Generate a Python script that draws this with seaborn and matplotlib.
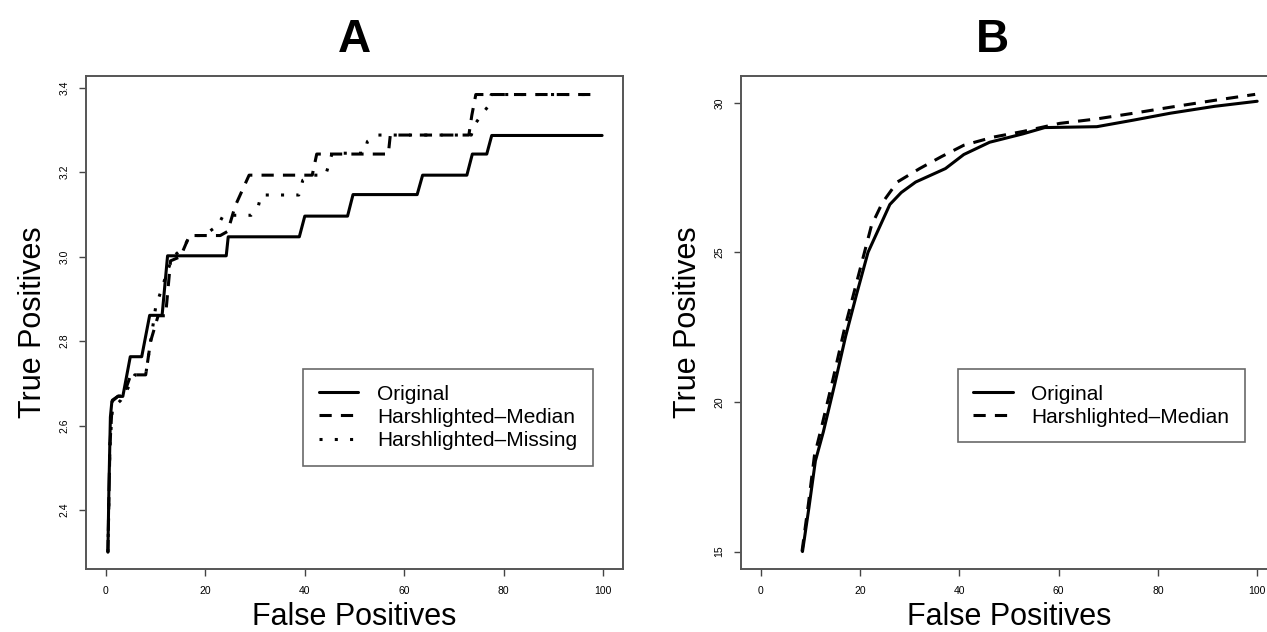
import matplotlib
matplotlib.use("Agg")
import matplotlib.pyplot as plt
import seaborn as sns

OUT_PATH = "out.png"

# Panel A: ROC-style step curves (false positives vs true positives)
a_orig_x = [0.4, 0.6, 0.9, 1.2, 2.4, 3.4, 4.9, 7.2, 8.8, 11.3, 12.4, 24.2, 24.6,
            38.9, 40.0, 48.6, 49.7, 62.6, 63.7, 72.6, 73.7, 76.6, 77.6, 99.8]
a_orig_y = [2.30, 2.45, 2.62, 2.657, 2.669, 2.669, 2.763, 2.763, 2.861, 2.861, 3.002, 3.002, 3.047,
            3.047, 3.096, 3.096, 3.147, 3.147, 3.193, 3.193, 3.243, 3.243, 3.287, 3.287]

a_median_x = [0.4, 0.8, 1.3, 2.5, 3.5, 5.0, 6.0, 8.0, 9.0, 10.5, 12.0, 13.0, 15.0, 16.8,
              23.0, 24.5, 26.0, 28.8, 41.5, 42.4, 56.8, 57.2, 73.0, 73.6, 74.4, 98.4]
a_median_y = [2.30, 2.55, 2.66, 2.67, 2.67, 2.72, 2.72, 2.72, 2.80, 2.86, 2.86, 2.99, 3.00, 3.05,
              3.05, 3.06, 3.12, 3.193, 3.193, 3.243, 3.243, 3.288, 3.288, 3.335, 3.384, 3.384]

a_missing_x = [0.4, 0.8, 1.3, 3.0, 5.0, 5.8, 8.0, 9.0, 10.0, 12.5, 13.5, 15.5, 17.0, 19.7,
               22.6, 23.6, 29.2, 30.6, 31.2, 38.8, 39.6, 41.6, 44.2, 45.5, 52.0, 52.6, 54.5,
               73.5, 74.0, 75.5, 76.8, 77.5, 98.4]
a_missing_y = [2.30, 2.55, 2.64, 2.66, 2.70, 2.72, 2.72, 2.80, 2.88, 2.97, 3.00, 3.02, 3.05, 3.05,
               3.075, 3.098, 3.098, 3.117, 3.146, 3.146, 3.181, 3.193, 3.193, 3.245, 3.245, 3.273, 3.288,
               3.288, 3.31, 3.335, 3.355, 3.384, 3.384]

# Panel B: smooth curves
b_orig_x = [8.4, 9.7, 11.0, 12.6, 14.9, 17.1, 19.3, 21.6, 23.8, 26.0, 28.3, 31.2, 37.2,
            40.9, 46.1, 52.8, 57.2, 67.7, 75.1, 82.5, 91.4, 100.0]
b_orig_y = [15.0, 16.47, 18.03, 19.0, 20.6, 22.2, 23.6, 25.0, 25.8, 26.6, 27.0, 27.35, 27.8,
            28.27, 28.68, 28.96, 29.17, 29.2, 29.42, 29.65, 29.88, 30.05]

b_median_x = [8.3, 9.6, 10.8, 12.3, 14.6, 16.8, 19.0, 21.2, 22.3, 24.5, 27.5, 32.0, 36.4,
              40.9, 46.8, 52.8, 60.2, 67.7, 75.1, 82.5, 91.4, 99.6]
b_median_y = [15.0, 16.6, 18.2, 19.2, 20.8, 22.4, 23.8, 25.2, 25.9, 26.66, 27.35, 27.8, 28.2,
              28.58, 28.85, 29.04, 29.31, 29.46, 29.65, 29.85, 30.08, 30.28]

x_ticks = [0, 20, 40, 60, 80, 100]
a_y_ticks = [2.4, 2.6, 2.8, 3.0, 3.2, 3.4]
b_y_ticks = [15, 20, 25, 30]

SOLID = "-"
DASHED = (0, (4, 3))
DOTTED = (0, (1, 4))


def style_axes(ax, xlim, ylim, yticks, ylabels):
    ax.set_xlim(*xlim)
    ax.set_ylim(*ylim)
    ax.set_xticks(x_ticks)
    ax.set_xticklabels([str(t) for t in x_ticks], fontsize=7.5)
    ax.set_yticks(yticks)
    ax.set_yticklabels(ylabels, fontsize=7.5, rotation=90, va="center")
    ax.tick_params(axis="both", direction="out", length=5, width=1.0,
                   color="#444444", pad=7, bottom=True, left=True)
    for sp in ax.spines.values():
        sp.set_visible(True)
        sp.set_color("#555555")
        sp.set_linewidth(1.4)
    ax.set_xlabel("False Positives", fontsize=22, labelpad=4)
    ax.set_ylabel("True Positives", fontsize=22, labelpad=8)


def main():
    sns.set_theme(style="white")
    plt.rcParams["font.family"] = ["Liberation Sans", "DejaVu Sans"]
    plt.rcParams["text.color"] = "black"
    plt.rcParams["axes.labelcolor"] = "black"
    plt.rcParams["xtick.labelcolor"] = "black"
    plt.rcParams["ytick.labelcolor"] = "black"

    fig = plt.figure(figsize=(12.67, 6.32), dpi=100)
    ax_a = fig.add_axes([0.0679, 0.0989, 0.4238, 0.7816])
    ax_b = fig.add_axes([0.5848, 0.0989, 0.4231, 0.7816])

    # panel A
    sns.lineplot(x=a_orig_x, y=a_orig_y, sort=False, estimator=None, color="black",
                 linewidth=2.2, linestyle=SOLID, label="Original", ax=ax_a)
    sns.lineplot(x=a_median_x, y=a_median_y, sort=False, estimator=None, color="black",
                 linewidth=2.2, linestyle=DASHED, label="Harshlighted\u2013Median", ax=ax_a)
    sns.lineplot(x=a_missing_x, y=a_missing_y, sort=False, estimator=None, color="black",
                 linewidth=2.2, linestyle=DOTTED, label="Harshlighted\u2013Missing", ax=ax_a)
    style_axes(ax_a, (-4, 104), (2.259, 3.429), a_y_ticks, [f"{t:.1f}" for t in a_y_ticks])

    # panel B
    sns.lineplot(x=b_orig_x, y=b_orig_y, sort=False, estimator=None, color="black",
                 linewidth=2.2, linestyle=SOLID, label="Original", ax=ax_b)
    sns.lineplot(x=b_median_x, y=b_median_y, sort=False, estimator=None, color="black",
                 linewidth=2.2, linestyle=DASHED, label="Harshlighted\u2013Median", ax=ax_b)
    style_axes(ax_b, (-4, 104), (14.40, 30.91), b_y_ticks, [str(t) for t in b_y_ticks])

    for ax in (ax_a, ax_b):
        leg = ax.legend(loc="upper left", bbox_to_anchor=(0.404, 0.406), fontsize=15,
                        frameon=True, fancybox=False, handlelength=1.9, labelspacing=0.2,
                        borderpad=0.75, handletextpad=0.9, borderaxespad=0.0)
        leg.get_frame().set_edgecolor("#444444")
        leg.get_frame().set_linewidth(1.2)

    fig.text(354 / 1267, 1 - 40 / 632, "A", fontsize=33, fontweight="bold",
             ha="center", va="center")
    fig.text(992 / 1267, 1 - 40 / 632, "B", fontsize=33, fontweight="bold",
             ha="center", va="center")

    fig.savefig(OUT_PATH, dpi=100)
    plt.close(fig)


if __name__ == "__main__":
    main()
